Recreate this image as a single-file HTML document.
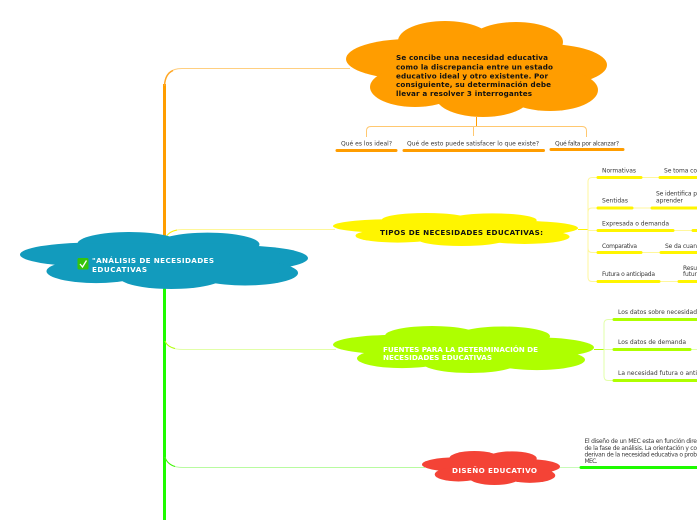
<!DOCTYPE html>
<html>
<head>
<meta charset="utf-8">
<style>
html,body{margin:0;padding:0;background:#fff;width:697px;height:520px;overflow:hidden}
svg{display:block}
text{font-family:"DejaVu Sans","Liberation Sans",sans-serif;font-size:6px;fill:#3a3a3a}
.b{font-weight:bold;font-size:7.2px}
</style>
</head>
<body>
<svg width="697" height="520" viewBox="0 0 697 520" xmlns="http://www.w3.org/2000/svg">
<defs>
<symbol id="c" viewBox="0 0 261 96" preserveAspectRatio="none">
<ellipse cx="64" cy="38" rx="64" ry="20"/>
<ellipse cx="99" cy="20" rx="47" ry="20"/>
<ellipse cx="170" cy="21" rx="47" ry="20"/>
<ellipse cx="199" cy="44" rx="62" ry="21"/>
<ellipse cx="204" cy="69" rx="48" ry="21"/>
<ellipse cx="69" cy="66" rx="45" ry="20"/>
<ellipse cx="137" cy="76" rx="47" ry="20"/>
<rect x="60" y="20" width="150" height="60"/>
</symbol>
</defs>

<!-- main trunk -->
<path d="M164.500 84 V236" stroke="#ff9d00" stroke-width="3" fill="none"/>
<path d="M164.500 285 V520" stroke="#1efb00" stroke-width="3" fill="none"/>

<!-- branches -->
<path d="M164.500 86 Q164.500 68.500 182 68.500 H350" stroke="#ffcf80" stroke-width="1" fill="none"/>
<path d="M164.500 86 Q165 74 173 70.500" stroke="#ffa726" stroke-width="1.500" fill="none"/>
<path d="M166 237 Q170 229.500 183 229.500 H335" stroke="#fff799" stroke-width="1" fill="none"/>
<path d="M166 237 Q169 231.500 177 230" stroke="#fff000" stroke-width="1" fill="none"/>
<path d="M165 341 Q168 349.500 183 349.500 H336" stroke="#e2ffa8" stroke-width="1" fill="none"/>
<path d="M165 341 Q167 346.500 175 348.500" stroke="#aeff00" stroke-width="1" fill="none"/>
<path d="M165 457 Q168 467.500 183 467.500 H425" stroke="#b8fba0" stroke-width="1" fill="none"/>
<path d="M165 457 Q167 464 175 466.500" stroke="#3cf500" stroke-width="1" fill="none"/>

<!-- clouds -->
<use href="#c" x="346" y="21" width="261" height="96" fill="#ff9d00"/>
<use href="#c" x="333" y="213" width="245" height="33" fill="#fff500"/>
<use href="#c" x="333" y="326" width="261" height="47" fill="#aeff00"/>
<use href="#c" x="422" y="451" width="138" height="34" fill="#f44336"/>
<use href="#c" x="20" y="232" width="288" height="57" fill="#129bbd"/>

<!-- cloud labels -->
<g class="b">
<text class="b" x="396" y="60" style="fill:#111" textLength="152">Se concibe una necesidad educativa</text>
<text class="b" x="396" y="69.300" style="fill:#111" textLength="157">como la discrepancia entre un estado</text>
<text class="b" x="396" y="78.300" style="fill:#111" textLength="152">educativo ideal y otro existente. Por</text>
<text class="b" x="396" y="87" style="fill:#111" textLength="155">consiguiente, su determinación debe</text>
<text class="b" x="396" y="96" style="fill:#111" textLength="136">llevar a resolver 3 interrogantes</text>
<text class="b" x="380" y="235" style="fill:#111" textLength="163">TIPOS DE NECESIDADES EDUCATIVAS:</text>
<text class="b" x="383" y="352" style="fill:#fff" textLength="155">FUENTES PARA LA DETERMINACIÓN DE</text>
<text class="b" x="383" y="360" style="fill:#fff" textLength="109">NECESIDADES EDUCATIVAS</text>
<text class="b" x="452" y="473" style="fill:#fff" textLength="85">DISEÑO EDUCATIVO</text>
<text class="b" x="92" y="263" style="fill:#fff" textLength="122">"ANÁLISIS DE NECESIDADES</text>
<text class="b" x="92" y="272" style="fill:#fff" textLength="55">EDUCATIVAS</text>
</g>
<rect x="77.500" y="258" width="11" height="11.500" rx="1.500" fill="#35c40c"/>
<path d="M80 264 L82.500 267 L86.500 260.500" stroke="#fff" stroke-width="1.300" fill="none"/>

<!-- orange children -->
<path d="M473.500 126.500 V136 M366.500 137 V131 Q366.500 126.500 371 126.500 H582 Q586.500 126.500 586.500 131 V137" stroke="#ffc870" stroke-width="1" fill="none"/>
<path d="M476.500 117 V126" stroke="#ff9d00" stroke-width="1" fill="none"/>
<text x="341" y="145.500" textLength="51">Qué es los ideal?</text>
<text x="407" y="145.500" textLength="132">Qué de esto puede satisfacer lo que existe?</text>
<text x="555" y="145.500" textLength="64">Qué falta por alcanzar?</text>
<g stroke="#ff9d00" stroke-width="3" stroke-linecap="round">
<path d="M337 150.500 H396"/><path d="M404 150.500 H543.500"/><path d="M551 149.500 H623"/>
</g>

<!-- yellow children -->
<path d="M578 229.500 H588" stroke="#fff500" stroke-width="1"/>
<path d="M597 177.500 H592 Q588 177.500 588 182 V277 Q588 281.500 592 281.500 H597 M588 212 Q588 208 592 208 H597 M588 230.500 H597 M588 248 Q588 252.500 592 252.500 H597" stroke="#fff79c" stroke-width="1" fill="none"/>
<path d="M641 177.500 H660 M633 208 H651 M674 230.500 H692 M642 252.500 H660 M660 281.500 H678" stroke="#fff79c" stroke-width="1" fill="none"/>
<text x="602" y="172.500" textLength="34">Normativas</text>
<text x="664" y="172.500" textLength="33">Se toma co</text>
<text x="602" y="202.500" textLength="26">Sentidas</text>
<text x="656" y="195.500" textLength="41">Se identifica p</text>
<text x="656" y="202.500" textLength="27">aprender</text>
<text x="602" y="225.500" textLength="67">Expresada o demanda</text>
<text x="602" y="248" textLength="35">Comparativa</text>
<text x="665" y="248" textLength="32">Se da cuan</text>
<text x="602" y="276" textLength="53">Futura o anticipada</text>
<text x="683" y="270" textLength="14">Resu</text>
<text x="683" y="276" textLength="14">futur</text>
<g stroke="#fff500" stroke-width="3" stroke-linecap="round">
<path d="M598 177.500 H641"/><path d="M660 177.500 H697"/>
<path d="M598 208 H632"/><path d="M652 208 H697"/>
<path d="M598 230.500 H673"/><path d="M693 230.500 H697"/>
<path d="M598 252.500 H641"/><path d="M661 252.500 H697"/>
<path d="M598 281.500 H659"/><path d="M679 281.500 H697"/>
</g>

<!-- green children -->
<path d="M594 349.500 H604" stroke="#aeff00" stroke-width="1"/>
<path d="M613 319.500 H608 Q604 319.500 604 324 V376 Q604 380.500 608 380.500 H613 M604 349.500 H613" stroke="#e2ffa8" stroke-width="1" fill="none"/>
<path d="M690 349.500 H697" stroke="#e2ffa8" stroke-width="1"/>
<text x="618" y="314" textLength="79">Los datos sobre necesidad</text>
<text x="618" y="344" textLength="68">Los datos de demanda</text>
<text x="618" y="375" textLength="79">La necesidad futura o anti</text>
<g stroke="#aeff00" stroke-width="3" stroke-linecap="round">
<path d="M614 319.500 H697"/><path d="M614 349.500 H690"/><path d="M614 380.500 H697"/>
</g>

<!-- design child -->
<path d="M560 467.500 H580" stroke="#c8fbb8" stroke-width="1"/>
<text x="584.500" y="443" textLength="112.500">El diseño de un MEC esta en función dire</text>
<text x="584.500" y="450" textLength="112.500">de la fase de análisis. La orientación y co</text>
<text x="584.500" y="456.500" textLength="112.500">derivan de la necesidad educativa o prob</text>
<text x="584.500" y="463" textLength="13">MEC.</text>
<path d="M581 467.500 H697" stroke="#1efb00" stroke-width="3" stroke-linecap="round"/>
</svg>
</body>
</html>
